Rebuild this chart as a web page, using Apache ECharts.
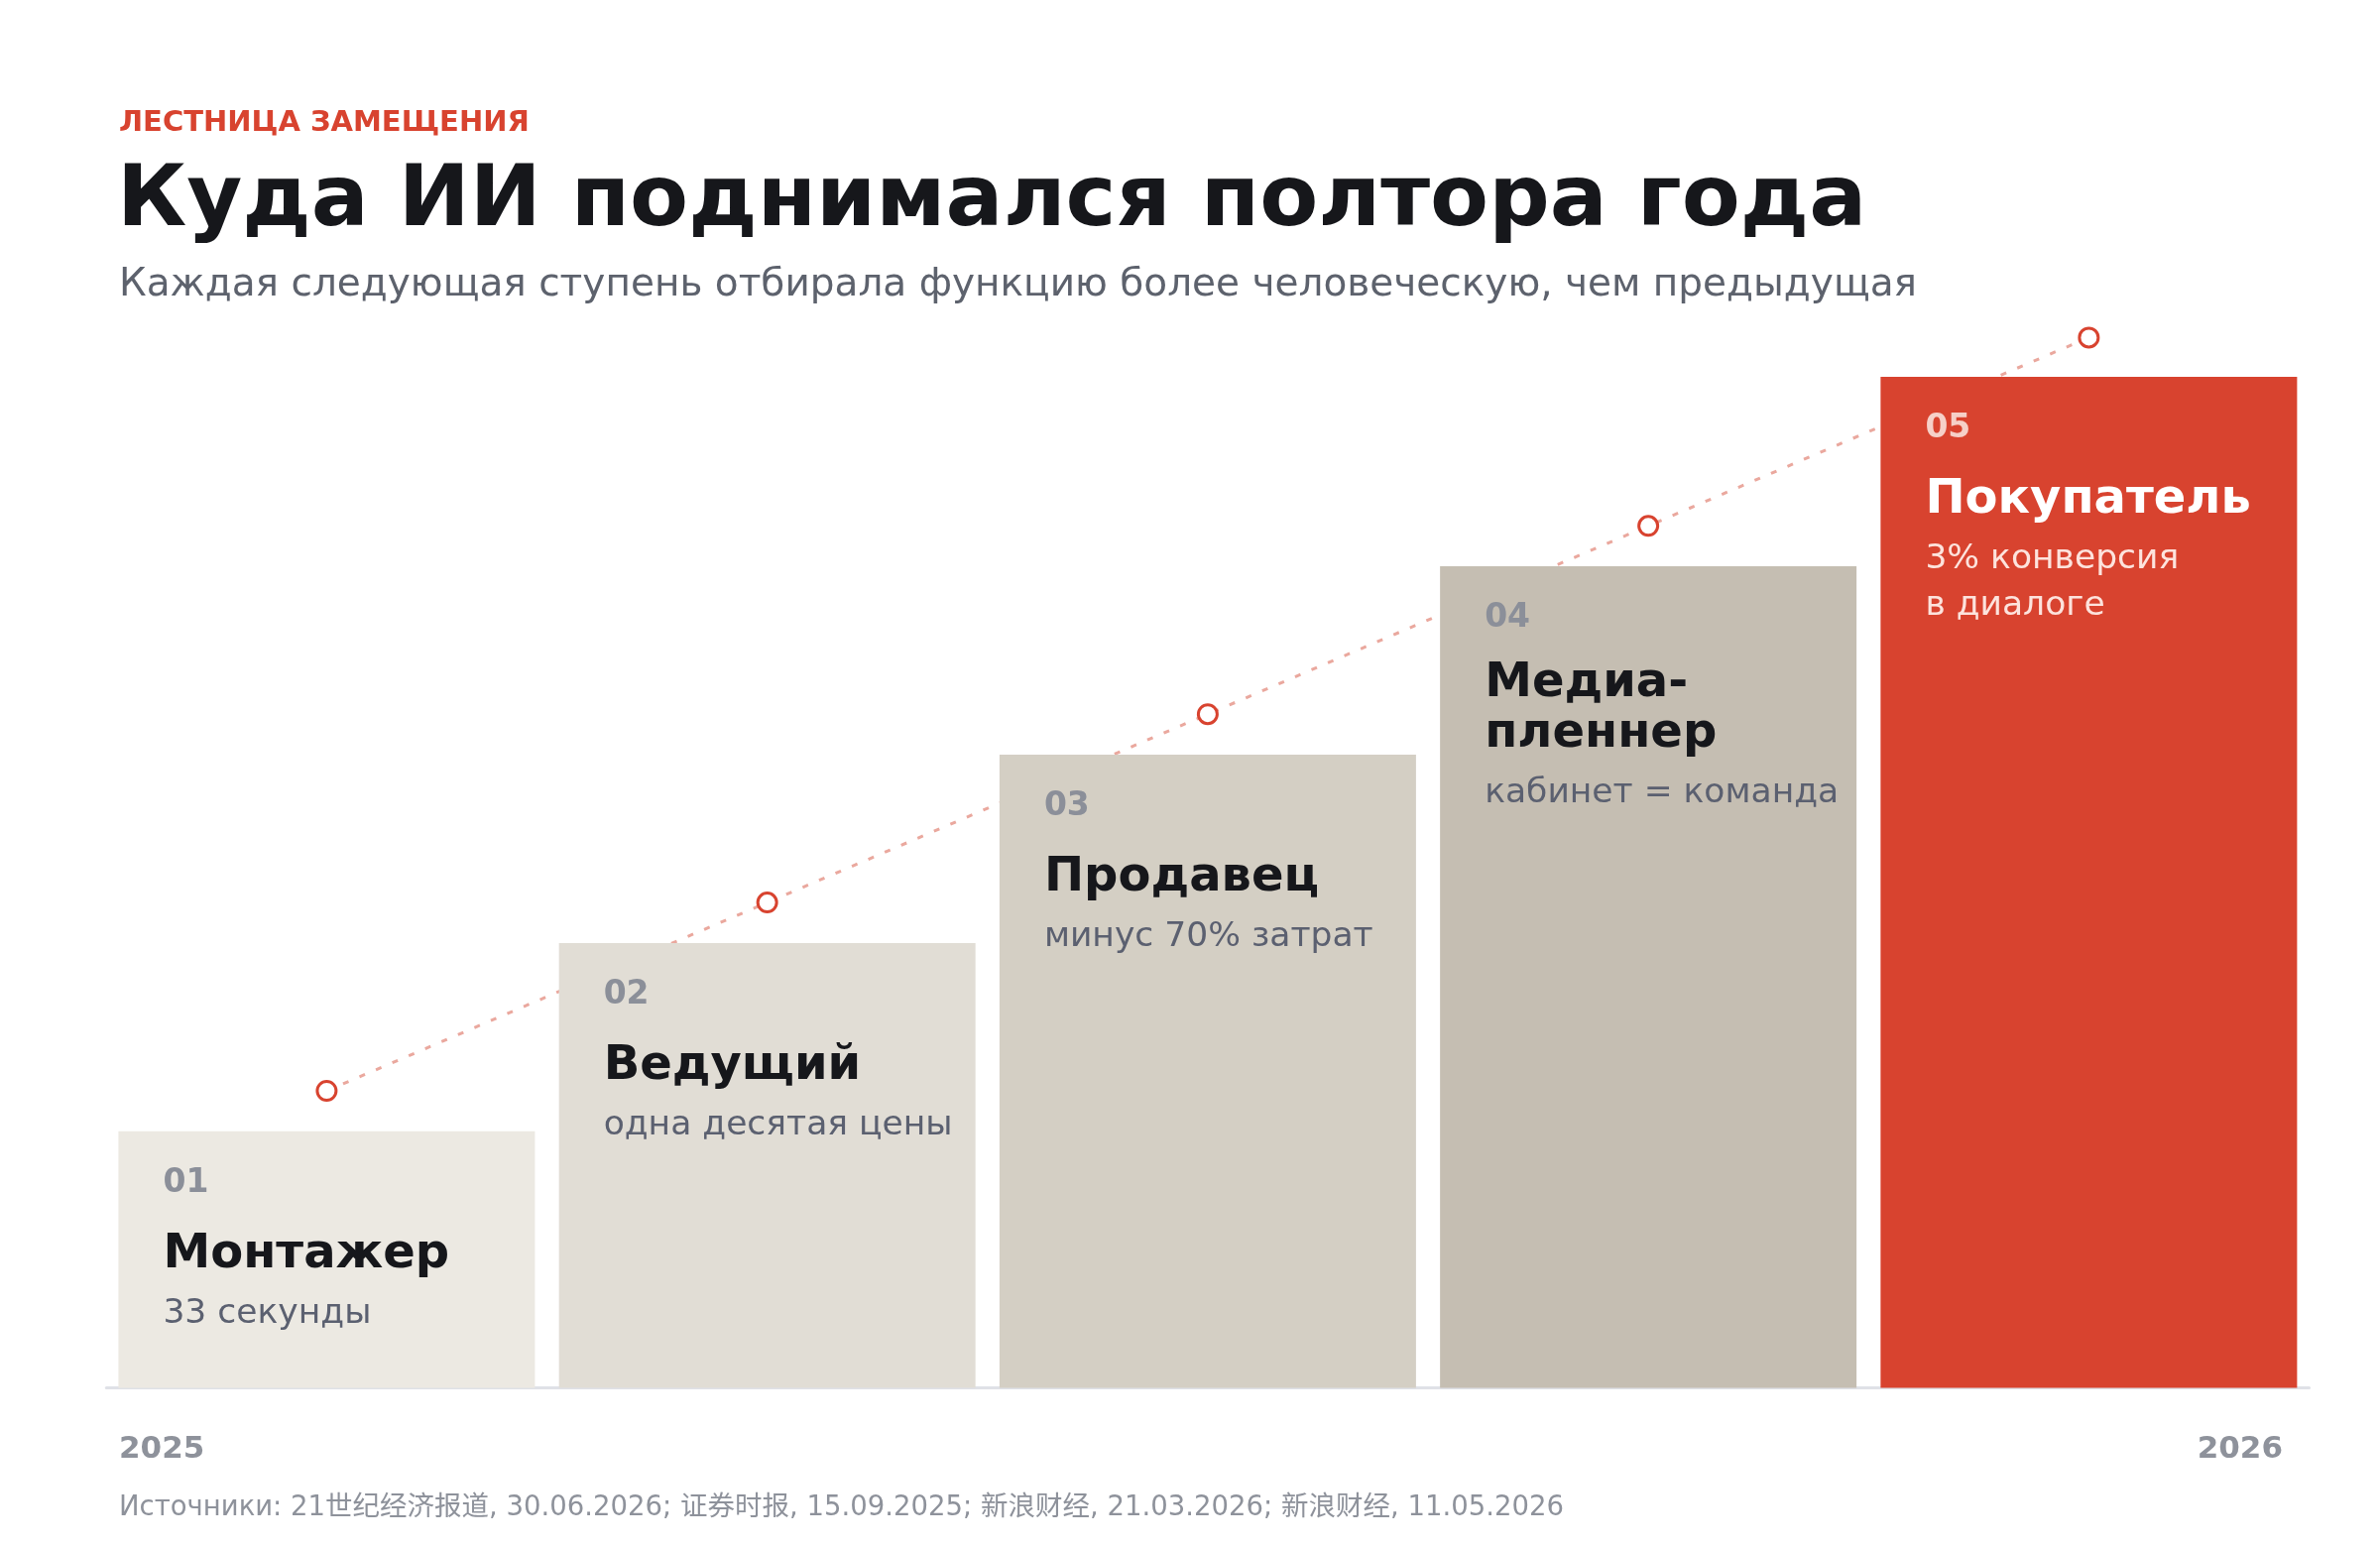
<!DOCTYPE html>
<html>
<head>
<meta charset="utf-8">
<script src="https://cdn.jsdelivr.net/npm/echarts@6/dist/echarts.min.js"></script>
<style>
  html, body { margin: 0; padding: 0; background: #fff; }
  #chart { width: 2400px; height: 1560px; }
</style>
</head>
<body>
<div id="chart"></div>
<script>
// ступени лестницы
var stepNums = ['01', '02', '03', '04', '05'];
var roles = ['Монтажер', 'Ведущий', 'Продавец', 'Медиа-\nпленнер', 'Покупатель'];
var notes = ['33 секунды', 'одна десятая цены', 'минус 70% затрат', 'кабинет = команда', '3% конверсия\nв диалоге'];
// высота ступеней и кружков над ними (условные единицы, шкала 0..100)
var stepLevels = [20.3, 35.2, 50.1, 65, 80];
var markerLevels = [23.5, 38.4, 53.3, 68.2, 83.1];
var yearLabels = ['2025', '2026'];

var barColors = ['#ece9e2', '#e1ddd5', '#d4cfc4', '#c5beb2', '#d8432f'];
var RED = '#d8432f';
var FONT = '"DejaVu Sans", "Noto Sans CJK SC", sans-serif';

var chart = echarts.init(document.getElementById('chart'));

function labelText(i) {
    var hi = i === barColors.length - 1 ? 'H' : '';
    var nameLines = roles[i].split('\n');
    var s = '{top| }\n{num' + hi + '|' + stepNums[i] + '}\n';
    s += '{' + (nameLines.length > 1 ? 'gapS' : 'gapA') + '| }\n';
    s += nameLines.map(function (t) { return '{name' + hi + '|' + t + '}'; }).join('\n');
    s += '\n{gapB| }\n';
    s += notes[i].split('\n').map(function (t) { return '{sub' + hi + '|' + t + '}'; }).join('\n');
    return s;
}

var rich = {
    top:  { fontSize: 1, lineHeight: 32.5 },
    gapA: { fontSize: 1, lineHeight: 27 },
    gapS: { fontSize: 1, lineHeight: 20.5 },
    gapB: { fontSize: 1, lineHeight: 10.5 },
    num:  { fontFamily: FONT, fontWeight: 'bold', fontSize: 33, lineHeight: 40, color: '#8b8f99' },
    numH: { fontFamily: FONT, fontWeight: 'bold', fontSize: 33, lineHeight: 40, color: '#f6d0c8' },
    name: { fontFamily: FONT, fontWeight: 'bold', fontSize: 48, lineHeight: 51, color: '#16171b' },
    nameH:{ fontFamily: FONT, fontWeight: 'bold', fontSize: 48, lineHeight: 51, color: '#ffffff' },
    sub:  { fontFamily: FONT, fontSize: 34.5, lineHeight: 47, color: '#5b6070' },
    subH: { fontFamily: FONT, fontSize: 34.5, lineHeight: 47, color: '#fde3dd' }
};

chart.setOption({
    backgroundColor: '#ffffff',
    animation: false,
    grid: { left: 107.3, right: 71.5, top: 125, bottom: 160.5 },
    xAxis: {
        type: 'category',
        data: stepNums,
        axisLine: { lineStyle: { color: '#dfe1e7', width: 3 } },
        axisTick: { show: false },
        axisLabel: { show: false }
    },
    yAxis: {
        type: 'value',
        min: 0,
        max: 100,
        show: false
    },
    series: [
        {
            type: 'line',
            data: markerLevels,
            z: 2,
            silent: true,
            symbol: 'circle',
            symbolSize: 19,
            itemStyle: { color: '#ffffff', borderColor: RED, borderWidth: 3 },
            lineStyle: { color: '#eaa89e', width: 3, type: [6, 12] }
        },
        {
            type: 'bar',
            z: 3,
            barWidth: 420,
            silent: true,
            data: stepLevels.map(function (v, i) {
                return { value: v, itemStyle: { color: barColors[i] } };
            }),
            label: {
                show: true,
                position: 'insideTopLeft',
                distance: 0,
                offset: [45, 0],
                formatter: function (p) { return labelText(p.dataIndex); },
                rich: rich
            }
        }
    ],
    graphic: [
        { type: 'text', x: 120, y: 124, style: { text: 'ЛЕСТНИЦА ЗАМЕЩЕНИЯ', fontFamily: FONT, fontWeight: 'bold', fontSize: 29, fill: RED, verticalAlign: 'middle' } },
        { type: 'text', x: 118, y: 205, style: { text: 'Куда ИИ поднимался полтора года', fontFamily: FONT, fontWeight: 'bold', fontSize: 86, fill: '#16171b', verticalAlign: 'middle' } },
        { type: 'text', x: 120, y: 288, style: { text: 'Каждая следующая ступень отбирала функцию более человеческую, чем предыдущая', fontFamily: FONT, fontSize: 39, fill: '#5d626d', verticalAlign: 'middle' } },
        { type: 'text', x: 120, y: 1462, style: { text: yearLabels[0], fontFamily: FONT, fontWeight: 'bold', fontSize: 31, fill: '#8e929b', verticalAlign: 'middle' } },
        { type: 'text', x: 2302, y: 1462, style: { text: yearLabels[1], fontFamily: FONT, fontWeight: 'bold', fontSize: 31, fill: '#8e929b', align: 'right', verticalAlign: 'middle' } },
        { type: 'text', x: 120, y: 1521, style: { text: 'Источники: 21世纪经济报道, 30.06.2026; 证券时报, 15.09.2025; 新浪财经, 21.03.2026; 新浪财经, 11.05.2026', fontFamily: FONT, fontSize: 27.5, fill: '#8e929b', verticalAlign: 'middle' } }
    ]
});
</script>
</body>
</html>
